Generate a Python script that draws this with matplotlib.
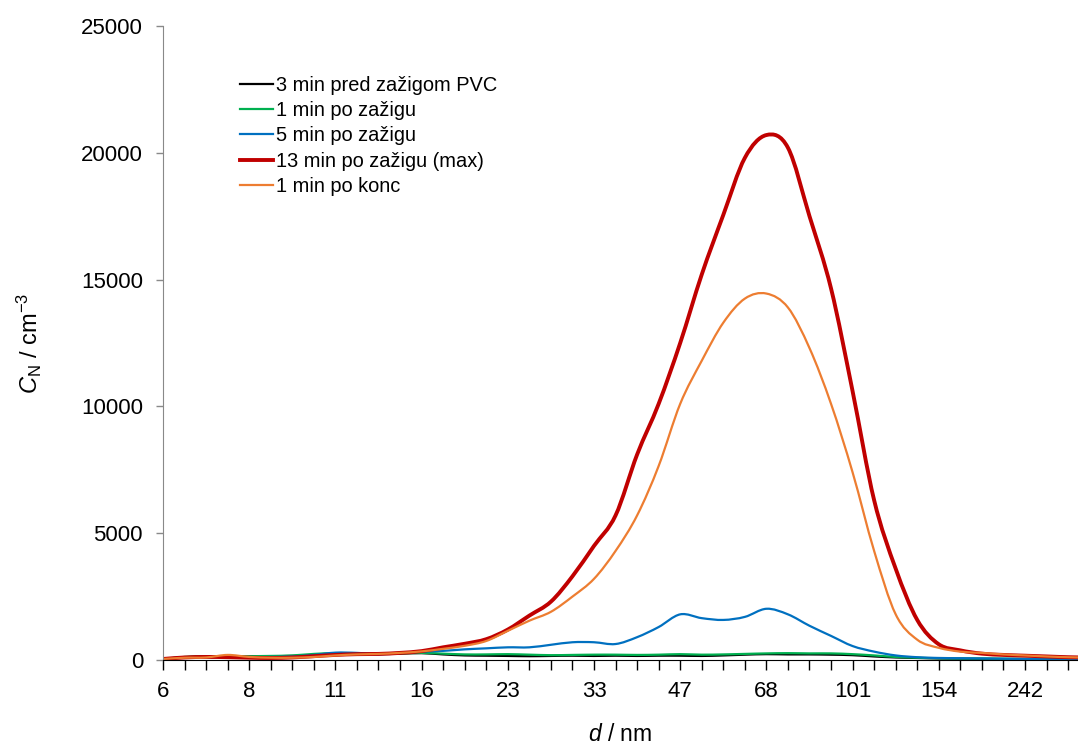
import matplotlib
matplotlib.use("Agg")
import matplotlib.pyplot as plt
from matplotlib.path import Path
from matplotlib.patches import PathPatch
from matplotlib.lines import Line2D
import numpy as np

plt.rcParams['font.family'] = ['Liberation Sans', 'DejaVu Sans']
plt.rcParams['mathtext.fontset'] = 'custom'
plt.rcParams['mathtext.rm'] = 'Liberation Sans'
plt.rcParams['mathtext.it'] = 'Liberation Sans:italic'

# x categories: size channels, labelled every 4th
tick_labels = ["6", "8", "11", "16", "23", "33", "47", "68", "101", "154", "242"]
n_channels = 44

series_names = ["3 min pred zažigom PVC", "1 min po zažigu", "5 min po zažigu",
                "13 min po zažigu (max)", "1 min po konc"]

pre_3min = [40, 110, 130, 130, 140, 150, 160, 190, 230, 240, 230, 250, 270, 220, 180,
            170, 160, 150, 160, 170, 160, 170, 160, 170, 170, 160, 180, 210, 230, 220,
            220, 210, 190, 140, 100, 80, 60, 50, 45, 40, 35, 30, 25, 22]
post_1min = [40, 120, 150, 140, 150, 160, 180, 240, 270, 250, 240, 260, 280, 250, 220,
             220, 230, 210, 190, 200, 210, 210, 200, 210, 230, 210, 220, 240, 260, 270,
             260, 260, 230, 180, 120, 90, 70, 60, 60, 50, 45, 40, 35, 30]
post_5min = [40, 100, 110, 120, 110, 120, 140, 200, 290, 280, 230, 280, 330, 360, 420,
             460, 500, 500, 600, 700, 700, 630, 900, 1300, 1800, 1650, 1580, 1700, 2020, 1800,
             1350, 950, 550, 330, 180, 110, 80, 70, 60, 50, 40, 30, 25, 20]
post_13min = [40, 100, 120, 110, 90, 80, 100, 150, 200, 230, 240, 280, 350, 500, 640,
              820, 1200, 1750, 2300, 3300, 4500, 5700, 8100, 10100, 12500, 15200, 17550, 19800, 20700, 20200,
              17500, 14650, 10600, 6300, 3600, 1580, 620, 380, 250, 200, 170, 140, 110, 95]
after_end_1min = [40, 90, 100, 200, 120, 90, 90, 120, 180, 220, 240, 280, 340, 440, 560,
                  750, 1150, 1550, 1900, 2500, 3200, 4300, 5700, 7650, 10100, 11800, 13300, 14250, 14450, 13900,
                  12300, 10100, 7400, 4300, 1800, 800, 480, 330, 280, 220, 180, 140, 110, 95]

series = [pre_3min, post_1min, post_5min, post_13min, after_end_1min]
colors = ["#000000", "#00b050", "#0070c0", "#c00000", "#ed7d31"]
widths = [1.6, 1.6, 1.6, 2.8, 1.6]


def smooth_path(xs, ys):
    """Excel-like smoothed line: cubic Bezier segments through the data points."""
    pts = np.column_stack([xs, ys]).astype(float)
    n = len(pts)
    verts = [pts[0]]
    codes = [Path.MOVETO]
    for i in range(n - 1):
        p0 = pts[i - 1] if i > 0 else pts[i]
        p1 = pts[i]
        p2 = pts[i + 1]
        p3 = pts[i + 2] if i + 2 < n else pts[i + 1]
        verts += [p1 + (p2 - p0) / 6.0, p2 - (p3 - p1) / 6.0, p2]
        codes += [Path.CURVE4] * 3
    return Path(verts, codes)


fig = plt.figure(figsize=(10.78, 7.45), dpi=100)
ax = fig.add_axes([163/1078, 85/745, 1 - 163/1078, (660-26)/745])

x = np.arange(n_channels)
handles = []
for name, vals, c, lw in zip(series_names, series, colors, widths):
    patch = PathPatch(smooth_path(x, vals), facecolor='none', edgecolor=c, lw=lw,
                      capstyle='round', joinstyle='round', transform=ax.transData)
    ax.add_patch(patch)
    handles.append(Line2D([], [], color=c, lw=lw, label=name))

ax.set_xticks(np.arange(0, 41, 4))
ax.set_xticklabels(tick_labels)
ax.set_xticks(np.arange(n_channels - 1), minor=True)
ax.set_yticks(np.arange(0, 25001, 5000))
ax.set_xlim(0, 42.46)
ax.set_ylim(0, 25000)
ax.tick_params(axis='x', which='both', direction='out', length=7, width=1, colors='#000000',
               labelsize=16, pad=8)
ax.tick_params(axis='y', direction='out', length=5, width=1, color='#898989', labelsize=16, pad=9.4)

for s in ['top', 'right']:
    ax.spines[s].set_visible(False)
ax.spines['left'].set_color('#898989')
ax.spines['bottom'].set_color('#000000')

ax.set_xlabel(r'$d$ / nm', fontsize=16.5, labelpad=15)
ax.set_ylabel(r'$C_\mathrm{N}$ / cm$^{-3}$', fontsize=17, labelpad=27)

leg = ax.legend(handles=handles, loc='upper left', bbox_to_anchor=(77/915, 1 - 50/634),
                frameon=False, fontsize=14.4, handlelength=1.65, handletextpad=0.15,
                labelspacing=0.31, borderaxespad=0, borderpad=0)

fig.savefig("out.png", dpi=100)
